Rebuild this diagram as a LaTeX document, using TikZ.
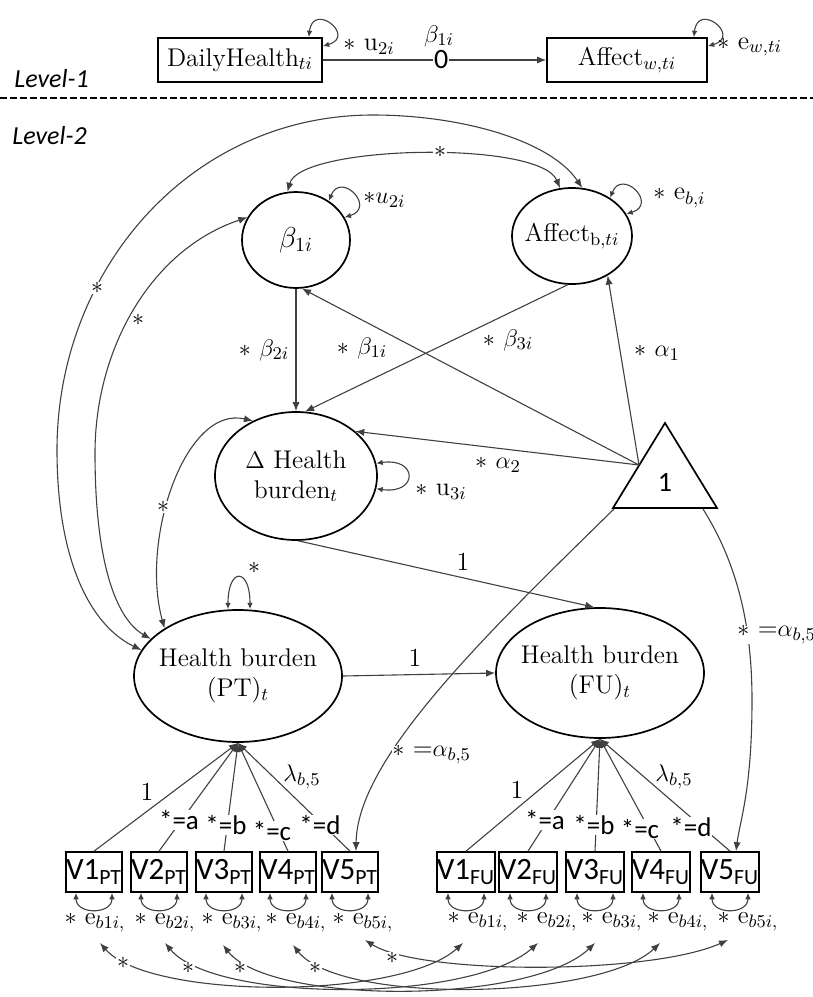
\documentclass[tikz,border=0pt]{standalone}
\usepackage{fontspec}
\newfontfamily\carl{Carlito}
\usetikzlibrary{shapes.geometric,arrows.meta}
\begin{document}
\begin{tikzpicture}[x=0.5pt,y=0.5pt,
  lat/.style={ellipse,draw=black,line width=0.85pt,inner sep=0pt},
  lattxt/.style={align=center,font=\fontsize{12.8}{15}\selectfont,inner sep=0pt},
  obs/.style={rectangle,draw=black,line width=0.85pt,inner sep=0pt,minimum width=27pt,minimum height=20pt,font=\carl\fontsize{15.5}{17}\selectfont},
  topbox/.style={rectangle,draw=black,line width=0.85pt,inner sep=0pt,font=\fontsize{12.8}{15}\selectfont},
  conn/.style={draw=black!75,line width=0.55pt},
  arr/.style={conn,-{Latex[length=4.5pt,width=3.6pt]}},
  darr/.style={conn,{Latex[length=4.5pt,width=3.6pt]}-{Latex[length=4.5pt,width=3.6pt]}},
  sarr/.style={conn,{Latex[length=3.2pt,width=2.8pt]}-{Latex[length=3.2pt,width=2.8pt]}},
  lbl/.style={font=\fontsize{13}{15}\selectfont,inner sep=0.5pt},
  wlbl/.style={font=\fontsize{13}{15}\selectfont,inner sep=0.5pt,fill=white},
  slbl/.style={font=\carl\fontsize{13.5}{15}\selectfont,inner sep=0.3pt,fill=white},
  elbl/.style={font=\fontsize{12.5}{14}\selectfont,inner sep=0.5pt},
  star/.style={font=\fontsize{12}{13}\selectfont,inner sep=0.3pt,fill=white},
  lev/.style={font=\carl\itshape\fontsize{13}{15}\selectfont,anchor=west,inner sep=0pt},
]
\useasboundingbox (0,0) rectangle (813,-997);

% ---------------- Level 1 ----------------
\node[topbox,minimum width=82pt,minimum height=22pt] (dly) at (240,-60) {DailyHealth$_{ti}$};
\node[topbox,minimum width=80pt,minimum height=22pt] (aw) at (627,-60) {Affect$_{w,ti}$};
\draw[sarr] ([xshift=-7pt]dly.north east) .. controls +(4,36) and +(34,10) .. ([yshift=-4.5pt]dly.north east);
\draw[sarr] ([xshift=-7pt]aw.north east) .. controls +(4,36) and +(34,10) .. ([yshift=-4.5pt]aw.north east);
\node[lbl,anchor=west] (u2top) at (342,-47) {$\ast$ u$_{2i}$};
\node[lbl,anchor=west] (ewtop) at (716,-47) {$\ast$ e$_{w,ti}$};
\node[lbl] (b1top) at (439,-36) {$\beta_{1i}$};
\draw[arr] (dly.east) -- (aw.west) node[pos=0.53,fill=white,inner sep=0.5pt,font=\carl\fontsize{14}{16}\selectfont] (zero) {0};
\node[lev] (lev1) at (14,-79) {Level-1};
\draw[black,line width=1pt,dash pattern=on 3.5pt off 1.5pt] (0,-98) coordinate (dl) -- (813,-98) coordinate (dr);
\node[lev] (lev2) at (12,-136) {Level-2};

% ---------------- Level 2 latent ----------------
\node[lat,minimum width=54pt,minimum height=48pt] (b1) at (296,-240) {};
\node[lattxt,font=\fontsize{14}{16}\selectfont] (b1t) at (b1) {$\beta_{1i}$};
\node[lat,minimum width=60pt,minimum height=48pt] (ab) at (572,-236) {};
\node[lattxt] (abt) at (ab) {Affect$_{\mathrm{b},ti}$};
\node[lat,minimum width=81pt,minimum height=64pt] (dh) at (296,-476) {};
\node[lattxt] (dht) at (dh) {$\Delta$ Health\\burden$_t$};
\node[lat,minimum width=104pt,minimum height=66pt] (pt) at (238,-676) {};
\node[lattxt] (ptt) at (pt) {Health burden\\(PT)$_t$};
\node[lat,minimum width=104pt,minimum height=65pt] (fu) at (600,-673) {};
\node[lattxt] (fut) at (fu) {Health burden\\(FU)$_t$};

% triangle
\draw[black,line width=0.85pt] (665,-423) -- (717,-508) -- (613,-508) -- cycle;
\node[font=\carl\fontsize{14}{16}\selectfont] (one) at (665,-482) {1};
\coordinate (tl) at (639,-465);
\coordinate (tbl) at (614,-509);
\coordinate (tbr) at (703,-509);

% self loops
\draw[sarr] (b1.50) .. controls +(12,30) and +(32,10) .. (b1.25);
\node[lbl,anchor=west] (u2b) at (362,-200) {$\ast u_{2i}$};
\draw[sarr] (ab.45) .. controls +(12,30) and +(32,10) .. (ab.22);
\node[lbl,anchor=west] (ebi) at (652,-198) {$\ast$ e$_{b,i}$};
\draw[sarr] (dh.9) .. controls +(42,6) and +(42,-6) .. (dh.-9);
\node[lbl,anchor=west] (u3i) at (414,-492) {$\ast$ u$_{3i}$};
\draw[sarr] ([xshift=-5pt]pt.north) .. controls +(0,42) and +(0,42) .. ([xshift=6pt]pt.north);
\node[lbl] (ptvar) at (254,-568) {$\ast$};

% structural paths
\draw[arr] (b1.south) -- (dh.north);
\node[lbl] (lb2) at (264,-350) {$\ast$ $\beta_{2i}$};
\draw[arr] (tl) -- (b1.-83);
\node[lbl] (lb1) at (362,-348) {$\ast$ $\beta_{1i}$};
\draw[arr] (ab.-95) -- (dh.82);
\node[lbl] (lb3) at (508,-340) {$\ast$ $\beta_{3i}$};
\draw[arr] (tl) -- (ab.-48);
\node[lbl] (la1) at (657,-353) {$\ast$ $\alpha_1$};
\draw[arr] (tl) -- (dh.37);
\node[lbl] (la2) at (498,-465) {$\ast$ $\alpha_2$};
\draw[arr] (dh.-88) -- (fu.95);
\node[lbl] (l1a) at (463,-562) {1};
\draw[arr] (pt.east) -- (fu.west);
\node[lbl] (l1b) at (415,-658) {1};

% covariances
\draw[darr] (b1.100) .. controls (300,-145) and (540,-140) .. (ab.104);
\node[star] (s1) at (440,-152) {$\ast$};
\draw[darr] (ab.78) .. controls (550,-140) and (460,-115) .. (373,-115) .. controls (190,-115) and (57,-270) .. (57,-450) .. controls (57,-560) and (90,-625) .. (pt.165);
\node[star] (s2) at (97,-288) {$\ast$};
\draw[darr] (b1.155) .. controls (150,-250) and (95,-350) .. (95,-453) .. controls (95,-560) and (115,-618) .. (pt.157);
\node[star] (s3) at (138,-320) {$\ast$};
\draw[darr] (dh.128) .. controls (185,-405) and (140,-540) .. (pt.147);
\node[star] (s4) at (163,-507) {$\ast$};

% ---------------- indicators ----------------
\foreach \n/\x in {1/94,2/159,3/224,4/288,5/350}{
  \node[obs] (v\n p) at (\x,-872) {V\n\textsubscript{PT}};
}
\foreach \n/\x in {1/466,2/528,3/595,4/661,5/730}{
  \node[obs] (v\n f) at (\x,-872) {V\n\textsubscript{FU}};
}

% loadings
\foreach \n in {1,...,5}{
  \draw[arr] (v\n p.north) -- (pt.south);
  \draw[arr] (v\n f.north) -- (fu.south);
}
\node[lbl] (p1) at (147,-792) {1};
\node[slbl] (pa) at (179,-820) {*=a};
\node[slbl] (pb) at (226,-825) {*=b};
\node[slbl] (pc) at (272,-831) {*=c};
\node[slbl] (pd) at (320,-825) {*=d};
\node[lbl] (pl) at (302,-777) {$\lambda_{b,5}$};
\node[lbl] (f1) at (517,-790) {1};
\node[slbl] (fa) at (545,-820) {*=a};
\node[slbl] (fb) at (594,-825) {*=b};
\node[slbl] (fc) at (640,-829) {*=c};
\node[slbl] (fd) at (691,-827) {*=d};
\node[lbl] (fl) at (674,-777) {$\lambda_{b,5}$};

% intercept paths to V5
\draw[arr] (tbl) .. controls (480,-640) and (357,-760) .. ([xshift=3pt]v5p.north);
\node[wlbl,anchor=west,inner sep=0pt] (ap) at (392,-755) {$\ast$ =$\alpha_{b,5}$};
\draw[arr] (tbr) .. controls (735,-560) and (752,-620) .. (752,-700) .. controls (752,-790) and (740,-820) .. ([xshift=3pt]v5f.north);
\node[wlbl,anchor=west,inner sep=0pt] (af) at (737,-635) {$\ast$ =$\alpha_{b,5}$};

% residual variances
\foreach \n in {1,...,5}{
  \draw[sarr] ([xshift=-9pt]v\n p.south) .. controls +(0,-22) and +(0,-22) .. ([xshift=9pt]v\n p.south);
  \draw[sarr] ([xshift=-9pt]v\n f.south) .. controls +(0,-22) and +(0,-22) .. ([xshift=9pt]v\n f.south);
}
\foreach \n/\x in {1/95,2/165,3/232,4/296,5/363}{
  \node[elbl] (e\n p) at (\x,-923) {$\ast$ e$_{b\n i,}$};
}
\foreach \n/\x in {1/478,2/547,3/612,4/678,5/748}{
  \node[elbl] (e\n f) at (\x,-922) {$\ast$ e$_{b\n i,}$};
}

% residual covariances
\coordinate (c1p) at (100,-943); \coordinate (c1f) at (463,-943);
\coordinate (c2p) at (165,-943); \coordinate (c2f) at (538,-943);
\coordinate (c3p) at (223,-945); \coordinate (c3f) at (595,-943);
\coordinate (c4p) at (293,-945); \coordinate (c4f) at (660,-943);
\coordinate (c5p) at (365,-940); \coordinate (c5f) at (728,-940);
\draw[darr] (c1p) .. controls (150,-1000) and (400,-1000) .. (c1f);
\draw[darr] (c2p) .. controls (215,-1003) and (470,-1003) .. (c2f);
\draw[darr] (c3p) .. controls (270,-1005) and (530,-1005) .. (c3f);
\draw[darr] (c4p) .. controls (340,-1005) and (600,-1000) .. (c4f);
\draw[darr] (c5p) .. controls (420,-975) and (650,-975) .. (c5f);
\node[star] (r1) at (123,-963) {$\ast$};
\node[star] (r2) at (188,-968) {$\ast$};
\node[star] (r3) at (240,-968) {$\ast$};
\node[star] (r4) at (315,-968) {$\ast$};
\node[star] (r5) at (392,-958) {$\ast$};
\end{tikzpicture}
\end{document}
